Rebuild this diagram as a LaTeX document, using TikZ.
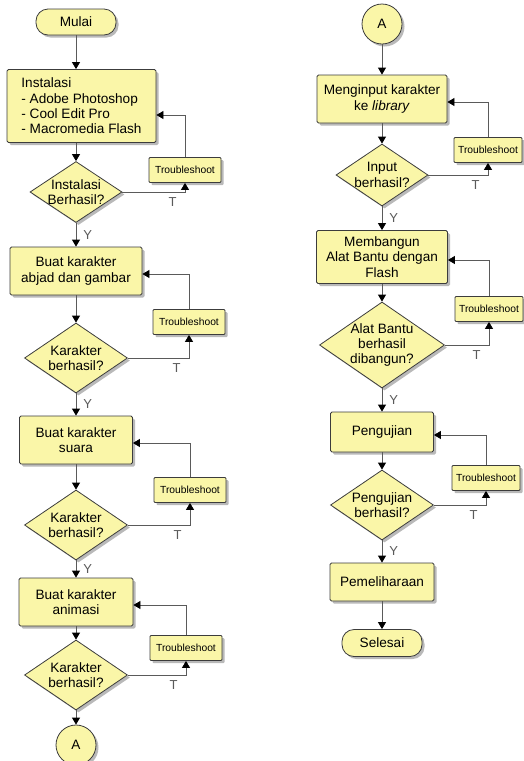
\documentclass[tikz,border=0pt]{standalone}
\usepackage{fontspec}
\setmainfont{Liberation Sans}
\usetikzlibrary{positioning, arrows.meta, shapes.geometric, shadows}
\definecolor{BoxFill}{RGB}{250,246,168}
\definecolor{BoxLine}{RGB}{60,60,60}
\definecolor{FlowColor}{RGB}{90,90,90}
\newcommand{\boxfont}{\fontsize{13.6}{15.3}\selectfont}
\newcommand{\trbfont}{\fontsize{10.3}{12}\selectfont}
\newcommand{\lblfont}{\fontsize{13}{15}\selectfont}
\tikzstyle{flow} = [FlowColor, line width=0.8pt, -{Triangle[width=8pt,length=7pt,color=black]}]
\tikzset{
  shapebase/.style={draw=BoxLine, fill=BoxFill, line width=0.8pt,
    drop shadow={shadow xshift=2.5pt, shadow yshift=-2.5pt, opacity=0.5, fill=black!55}},
  terminal/.style={shapebase, rectangle, rounded corners=12pt, minimum width=80pt, minimum height=26pt, font=\boxfont},
  process/.style={shapebase, rectangle, rounded corners=1.5pt, align=center, minimum height=48pt, inner sep=0pt, font=\boxfont},
  decision/.style={shapebase, diamond, aspect=1.5, inner sep=-6pt, align=center, minimum width=103pt, minimum height=70pt, font=\boxfont},
  trouble/.style={shapebase, rectangle, rounded corners=1pt, minimum width=72pt, minimum height=25pt, inner sep=0pt, font=\trbfont},
  connector/.style={shapebase, circle, minimum size=40pt, inner sep=0pt, font=\boxfont},
  lbl/.style={font=\lblfont, inner sep=2pt}
}
\begin{document}
\begin{tikzpicture}[x=1pt, y=-1pt]
  \useasboundingbox (0,0) rectangle (523,761);

  % Left column
  \node[terminal] (start) at (76,22) {Mulai};
  \node[process, minimum width=149pt, minimum height=73pt, align=left] (inst) at (81.5,106)
    {Instalasi\\- Adobe Photoshop\\- Cool Edit Pro\\- Macromedia Flash};
  \node[decision, minimum width=92pt, minimum height=61pt] (d1) at (76,192) {Instalasi\\Berhasil?};
  \node[trouble] (t1) at (185,170) {Troubleshoot};

  \node[process, minimum width=132pt] (buatabjad) at (76,271) {Buat karakter\\abjad dan gambar};
  \node[decision] (d2) at (76,358) {Karakter\\berhasil?};
  \node[trouble] (t2) at (189,322) {Troubleshoot};

  \node[process, minimum width=113pt] (buatsuara) at (76,440) {Buat karakter\\suara};
  \node[decision] (d3) at (76,525) {Karakter\\berhasil?};
  \node[trouble] (t3) at (190,490) {Troubleshoot};

  \node[process, minimum width=114pt] (buatanim) at (76,602) {Buat karakter\\animasi};
  \node[decision] (d4) at (76,675) {Karakter\\berhasil?};
  \node[trouble] (t4) at (186,648) {Troubleshoot};

  \node[connector] (a1) at (76,745) {A};

  % Right column
  \node[connector] (a2) at (382,24) {A};
  \node[process, minimum width=130pt] (input) at (382,99) {Menginput karakter\\ke \textit{library}};
  \node[decision, minimum width=92pt, minimum height=62pt] (d5) at (382,175) {Input\\berhasil?};
  \node[trouble, minimum width=68pt] (t5) at (488,150) {Troubleshoot};

  \node[process, minimum width=131pt, minimum height=53pt] (bangun) at (382,257)
    {Membangun\\Alat Bantu dengan\\Flash};
  \node[decision, minimum width=125pt, minimum height=86pt] (d6) at (382,345) {Alat Bantu\\berhasil\\dibangun?};
  \node[trouble, minimum width=68pt] (t6) at (489,309) {Troubleshoot};

  \node[process, minimum width=103pt, minimum height=40pt] (uji) at (382,432) {Pengujian};
  \node[decision] (d7) at (382,505) {Pengujian\\berhasil?};
  \node[trouble, minimum width=68pt] (t7) at (486,478) {Troubleshoot};

  \node[process, minimum width=104pt, minimum height=38pt] (pelihara) at (382,582) {Pemeliharaan};
  \node[terminal, minimum height=27pt] (stop) at (382,643) {Selesai};

  % Main flow, left
  \draw[flow] (start.south) -- (start.south |- inst.north);
  \draw[flow] (d1.north |- inst.south) -- (d1.north);
  \draw[flow] (d1.south) -- node[lbl, right=5pt] {Y} (buatabjad.north);
  \draw[flow] (buatabjad.south) -- (d2.north);
  \draw[flow] (d2.south) -- node[lbl, right=5pt] {Y} (buatsuara.north);
  \draw[flow] (buatsuara.south) -- (d3.north);
  \draw[flow] (d3.south) -- node[lbl, right=5pt] {Y} (buatanim.north);
  \draw[flow] (buatanim.south) -- (d4.north);
  \draw[flow] (d4.south) -- (a1.north);

  % Main flow, right
  \draw[flow] (a2.south) -- (input.north);
  \draw[flow] (input.south) -- (d5.north);
  \draw[flow] (d5.south) -- node[lbl, right=5pt] {Y} (bangun.north);
  \draw[flow] (bangun.south) -- (d6.north);
  \draw[flow] (d6.south) -- node[lbl, right=5pt] {Y} (uji.north);
  \draw[flow] (uji.south) -- (d7.north);
  \draw[flow] (d7.south) -- node[lbl, right=5pt] {Y} (pelihara.north);
  \draw[flow] (pelihara.south) -- (stop.north);

  % Troubleshoot loops
  \draw[flow] (d1.east) -| node[lbl, pos=0.5, below left=3pt and 6pt] {T} (t1.south);
  \draw[flow] (t1.north) |- ([yshift=-9pt]inst.east);
  \draw[flow] (d2.east) -| node[lbl, pos=0.5, below left=3pt and 6pt] {T} (t2.south);
  \draw[flow] (t2.north) |- ([yshift=-3pt]buatabjad.east);
  \draw[flow] (d3.east) -| node[lbl, pos=0.5, below left=3pt and 6pt] {T} (t3.south);
  \draw[flow] (t3.north) |- ([yshift=-3pt]buatsuara.east);
  \draw[flow] (d4.east) -| node[lbl, pos=0.5, below left=3pt and 6pt] {T} (t4.south);
  \draw[flow] (t4.north) |- ([yshift=-3pt]buatanim.east);
  \draw[flow] (d5.east) -| node[lbl, pos=0.5, below left=3pt and 6pt] {T} (t5.south);
  \draw[flow] (t5.north) |- ([yshift=-3pt]input.east);
  \draw[flow] (d6.east) -| node[lbl, pos=0.5, below left=3pt and 6pt] {T} (t6.south);
  \draw[flow] (t6.north) |- ([yshift=-3pt]bangun.east);
  \draw[flow] (d7.east) -| node[lbl, pos=0.5, below left=3pt and 6pt] {T} (t7.south);
  \draw[flow] (t7.north) |- ([yshift=-3pt]uji.east);
\end{tikzpicture}
\end{document}
